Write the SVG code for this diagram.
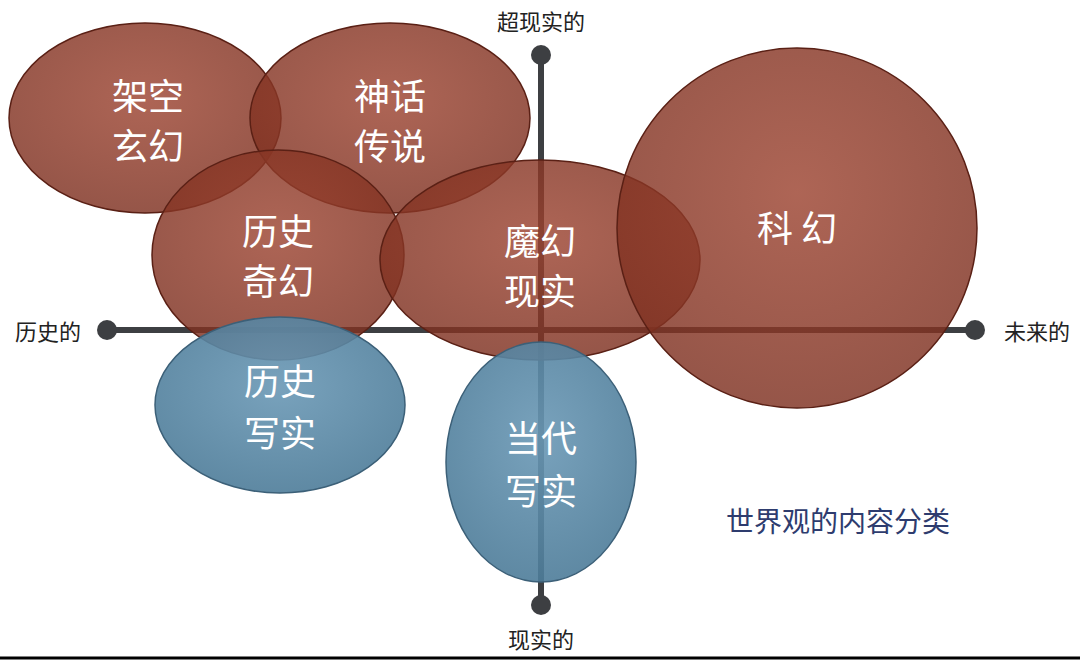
<svg xmlns="http://www.w3.org/2000/svg" width="1080" height="660" viewBox="0 0 1080 660">
<defs>
<radialGradient id="rg" cx="50%" cy="40%" r="60%"><stop offset="0" stop-color="#9c4330"/><stop offset="1" stop-color="#7e3020"/></radialGradient>
<radialGradient id="bg" cx="50%" cy="40%" r="60%"><stop offset="0" stop-color="#6a98b5"/><stop offset="1" stop-color="#4d7c99"/></radialGradient>
<style>
.r{fill:url(#rg);fill-opacity:0.82;stroke:#5a2015;stroke-width:1.5}
.b{fill:url(#bg);fill-opacity:0.9;stroke:#3c6078;stroke-width:1.5}
.t{font-family:"Noto Sans CJK SC",sans-serif;font-size:36px;fill:#fff;text-anchor:middle}
.a{font-family:"Noto Sans CJK SC",sans-serif;font-size:22px;fill:#222;text-anchor:middle}
</style>
</defs>
<rect width="1080" height="660" fill="#fff"/>
<g id="connectors" stroke="#3d3f42" stroke-width="6" fill="#3d3f42">
<line x1="541" y1="55" x2="541" y2="605"/>
<line x1="107" y1="330" x2="975" y2="330"/>
<circle cx="541" cy="55" r="10" stroke="none"/><circle cx="541" cy="605" r="10" stroke="none"/>
<circle cx="107" cy="330" r="10" stroke="none"/><circle cx="975" cy="330" r="10" stroke="none"/>
</g>
<text class="a" x="541" y="30">超现实的</text>
<text class="a" x="541" y="648">现实的</text>
<text class="a" x="48" y="340">历史的</text>
<text class="a" x="1037" y="340">未来的</text>
<g id="n1"><ellipse class="r" cx="145" cy="118" rx="136" ry="95"/><text class="t" x="148" y="110">架空</text><text class="t" x="148" y="160">玄幻</text></g>
<g id="n2"><ellipse class="r" cx="390" cy="118" rx="140" ry="95"/><text class="t" x="390" y="110">神话</text><text class="t" x="390" y="160">传说</text></g>
<g id="n3"><ellipse class="r" cx="278" cy="255" rx="126" ry="105"/><text class="t" x="278" y="245">历史</text><text class="t" x="278" y="295">奇幻</text></g>
<g id="n4"><ellipse class="r" cx="540" cy="260" rx="160" ry="100"/><text class="t" x="540" y="255">魔幻</text><text class="t" x="540" y="305">现实</text></g>
<g id="n5"><circle class="r" cx="797" cy="228" r="180"/><text class="t" x="797" y="242">科 幻</text></g>
<g id="n6"><ellipse class="b" cx="280" cy="405" rx="125" ry="88"/><text class="t" x="280" y="395">历史</text><text class="t" x="280" y="447">写实</text></g>
<g id="n7"><ellipse class="b" cx="541" cy="462" rx="95" ry="120"/><text class="t" x="541" y="452">当代</text><text class="t" x="541" y="505">写实</text></g>
<text x="838" y="532" font-family="Noto Sans CJK SC,sans-serif" font-size="28" fill="#2e3c6e" text-anchor="middle">世界观的内容分类</text>
<line x1="0" y1="658" x2="1080" y2="658" stroke="#000" stroke-width="3"/>
</svg>
